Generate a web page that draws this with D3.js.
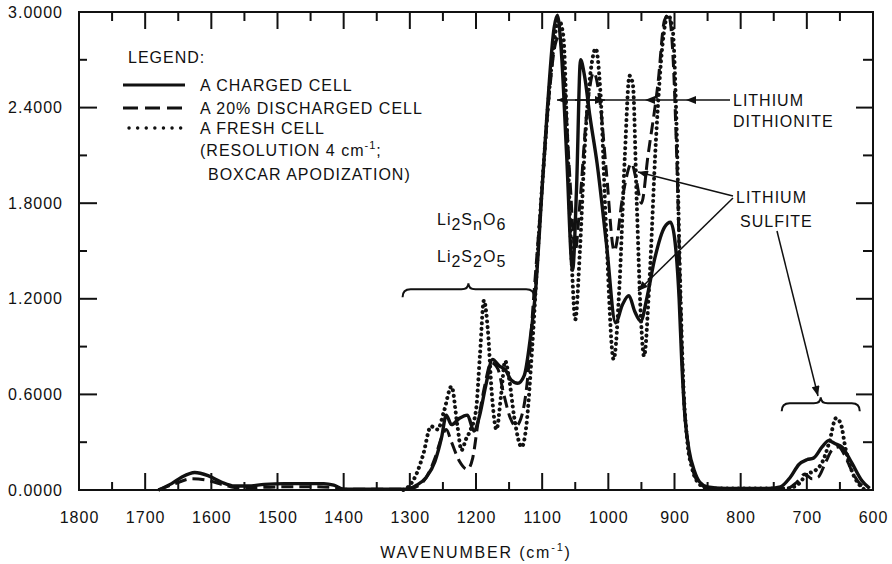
<!DOCTYPE html>
<html>
<head>
<meta charset="utf-8">
<script src="https://cdn.jsdelivr.net/npm/d3@7"></script>
<style>
  body { margin: 0; background: #fff; }
  svg { display: block; }
  text { font-family: "Liberation Sans", Arial, sans-serif; fill: #111; }
  .tick text { font-size: 16px; letter-spacing: 1px; }
  .ann { font-size: 16px; letter-spacing: 1px; }
</style>
</head>
<body>
<div id="chart"></div>
<script>
var width = 892,
    height = 564;

// charged cell (solid)
var chargedWn = [1680, 1660, 1645, 1625, 1605, 1585, 1565, 1545, 1520, 1490, 1460, 1430, 1415, 1400,
  1350, 1305, 1290, 1275, 1262, 1252, 1245, 1237, 1225, 1213, 1203, 1195, 1185, 1175, 1165, 1155,
  1147, 1137, 1127, 1118, 1110, 1100, 1092, 1082, 1077, 1071, 1063, 1054, 1048, 1042, 1036, 1028,
  1017, 1003, 989, 979, 969, 960, 951, 942, 930, 915, 906, 899, 893, 889, 884, 878, 870, 862, 850,
  820, 760, 740, 725, 712, 700, 690, 677, 667, 657, 647, 632, 617, 605];
var chargedAbs = [0, 0.04, 0.08, 0.11, 0.09, 0.05, 0.025, 0.025, 0.035, 0.04, 0.04, 0.04, 0.03, 0.005,
  0.005, 0.005, 0.03, 0.08, 0.18, 0.33, 0.47, 0.41, 0.45, 0.47, 0.37, 0.46, 0.66, 0.82, 0.78, 0.75,
  0.69, 0.67, 0.72, 0.95, 1.25, 1.9, 2.4, 2.9, 2.98, 2.75, 2.1, 1.38, 1.9, 2.70, 2.6, 2.35,
  2.05, 1.55, 1.05, 1.16, 1.22, 1.12, 1.06, 1.2, 1.45, 1.65, 1.68, 1.55, 1.2, 0.8, 0.45, 0.25, 0.12, 0.05, 0.02,
  0.01, 0.01, 0.02, 0.08, 0.16, 0.19, 0.2, 0.27, 0.31, 0.29, 0.27, 0.17, 0.06, 0.01];

// 20% discharged cell (dashed)
var dischargedWn = [1680, 1655, 1630, 1605, 1580, 1555, 1530, 1490, 1440, 1415, 1400,
  1300, 1290, 1275, 1262, 1252, 1245, 1237, 1225, 1213, 1205, 1197, 1187, 1177, 1167, 1158, 1148,
  1140, 1132, 1122, 1113, 1100, 1090, 1080, 1074, 1067, 1058, 1050, 1043, 1033, 1022, 1013, 1003,
  991, 978, 965, 958, 950, 940, 925, 915, 909, 902, 896, 891, 886, 880, 872, 862, 850,
  820, 760, 730, 715, 703, 692, 683, 672, 662, 652, 643, 632, 620, 608];
var dischargedAbs = [0, 0.04, 0.07, 0.06, 0.03, 0.01, 0.015, 0.02, 0.02, 0.015, 0.005,
  0.005, 0.02, 0.08, 0.2, 0.33, 0.38, 0.3, 0.18, 0.13, 0.2, 0.42, 0.65, 0.8, 0.76, 0.6, 0.45,
  0.4, 0.45, 0.7, 1.2, 1.9, 2.45, 2.8, 2.85, 2.6, 1.95, 1.5, 1.8, 2.35, 2.62, 2.45, 2.0,
  1.5, 1.85, 2.05, 1.95, 1.8, 2.1, 2.55, 2.95, 2.98, 2.7, 2.0, 1.2, 0.6, 0.3, 0.12, 0.04, 0.015,
  0.01, 0.01, 0.01, 0.05, 0.1, 0.07, 0.08, 0.17, 0.25, 0.27, 0.22, 0.12, 0.04, 0.01];

// fresh cell (dotted)
var freshWn = [1310, 1300, 1290, 1280, 1268, 1258, 1248, 1237, 1228, 1222, 1215, 1208, 1200, 1194,
  1188, 1182, 1176, 1169, 1162, 1156, 1150, 1142, 1131, 1124, 1115, 1105, 1095, 1085, 1075, 1068,
  1062, 1055, 1050, 1043, 1035, 1026, 1019, 1012, 1003, 992, 983, 975, 968, 963, 957, 951, 946,
  938, 928, 918, 910, 903, 897, 892, 887, 881, 873, 863, 850, 760, 730, 712, 700, 688, 676, 666,
  656, 649, 641, 632, 620, 612];
var freshAbs = [0, 0.03, 0.1, 0.22, 0.4, 0.38, 0.5, 0.65, 0.4, 0.25, 0.32, 0.38, 0.5, 0.85,
  1.19, 1.0, 0.6, 0.38, 0.6, 0.81, 0.7, 0.45, 0.27, 0.4, 0.9, 1.6, 2.2, 2.7, 2.95, 2.85,
  2.2, 1.4, 1.07, 1.5, 2.2, 2.65, 2.77, 2.5, 1.6, 0.82, 1.3, 2.1, 2.6, 2.55, 1.8, 1.1, 0.84,
  1.3, 2.2, 2.8, 2.98, 2.9, 2.3, 1.4, 0.7, 0.32, 0.13, 0.04, 0.01, 0.01, 0.01, 0.04, 0.1, 0.12, 0.18, 0.3,
  0.45, 0.42, 0.25, 0.12, 0.03, 0];

var xMajor = d3.range(1800, 599, -100);
var xMinor = d3.range(1750, 600, -100);
var yMajor = [0, 0.6, 1.2, 1.8, 2.4, 3.0];
var yMinor = [0.3, 0.9, 1.5, 2.1, 2.7];

var x = d3.scaleLinear().domain([1800, 600]).range([79, 873]);
var y = d3.scaleLinear().domain([0, 3]).range([490, 12]);

var svg = d3.select("#chart").append("svg")
    .attr("width", width)
    .attr("height", height);

svg.append("rect").attr("width", width).attr("height", height).attr("fill", "#fff");

// tick labels through d3 axes (no tick marks)
var gx = svg.append("g")
    .attr("transform", "translate(0,490)")
    .call(d3.axisBottom(x).tickValues(xMajor).tickFormat(d3.format("d")).tickSize(0).tickPadding(22));
var gy = svg.append("g")
    .attr("transform", "translate(79,0)")
    .call(d3.axisLeft(y).tickValues(yMajor).tickFormat(d3.format(".4f")).tickSize(0).tickPadding(16));
svg.selectAll(".domain").remove();
svg.selectAll(".tick text").attr("fill", "#111");

// frame
svg.append("rect")
    .attr("x", x(1800)).attr("y", y(3))
    .attr("width", x(600) - x(1800)).attr("height", y(0) - y(3))
    .attr("fill", "none").attr("stroke", "#111").attr("stroke-width", 2);

// inward tick marks on all four sides
var ticks = svg.append("g").attr("stroke", "#111").attr("stroke-width", 2);
var addTicks = function(vals, horiz, base, len) {
    vals.forEach(function(v) {
        if (horiz) {
            ticks.append("line").attr("x1", x(v)).attr("x2", x(v))
                .attr("y1", base).attr("y2", base + len);
        } else {
            ticks.append("line").attr("y1", y(v)).attr("y2", y(v))
                .attr("x1", base).attr("x2", base + len);
        }
    });
};
addTicks(xMajor, true, y(0), -17);
addTicks(xMinor, true, y(0), -8);
addTicks(xMajor, true, y(3), 17);
addTicks(xMinor, true, y(3), 9);
addTicks(yMajor, false, x(1800), 18);
addTicks(yMinor, false, x(1800), 8);
addTicks(yMajor, false, x(600), -17);
addTicks(yMinor, false, x(600), -10);

// x axis title
var xt = svg.append("text").attr("class", "ann")
    .attr("x", 476).attr("y", 558).attr("text-anchor", "middle")
    .style("letter-spacing", "1.8px");
xt.append("tspan").text("WAVENUMBER (cm");
xt.append("tspan").attr("dy", -7).attr("font-size", 11).text("-1");
xt.append("tspan").attr("dy", 7).text(")");

// spectra
var line = d3.line()
    .x(function(d) { return x(d[0]); })
    .y(function(d) { return y(d[1]); })
    .curve(d3.curveMonotoneX);

var series = [
    { wn: chargedWn, abs: chargedAbs, dash: null, w: 3.4 },
    { wn: dischargedWn, abs: dischargedAbs, dash: "12,6", w: 3 },
    { wn: freshWn, abs: freshAbs, dash: "0.1,5.5", w: 4 }
];

series.forEach(function(s) {
    var pts = s.wn.map(function(w, i) { return [w, s.abs[i]]; });
    svg.append("path")
        .datum(pts)
        .attr("d", line)
        .attr("fill", "none")
        .attr("stroke", "#111")
        .attr("stroke-width", s.w)
        .attr("stroke-linecap", s.dash === "0.1,5.5" ? "round" : "butt")
        .attr("stroke-dasharray", s.dash);
});

// legend
svg.append("text").attr("class", "ann").attr("x", 128).attr("y", 63).text("LEGEND:");
var legendRows = [
    { y: 85, dash: null, w: 3, cap: "butt", x0: 123, label: "A CHARGED CELL" },
    { y: 108, dash: "15,7", w: 3, cap: "butt", x0: 123, label: "A 20% DISCHARGED CELL" },
    { y: 128, dash: "0.1,8.5", w: 3.4, cap: "round", x0: 129, label: "A FRESH CELL" }
];
legendRows.forEach(function(r) {
    svg.append("line")
        .attr("x1", r.x0).attr("x2", 185).attr("y1", r.y).attr("y2", r.y)
        .attr("stroke", "#111").attr("stroke-width", r.w)
        .attr("stroke-dasharray", r.dash).attr("stroke-linecap", r.cap);
    svg.append("text").attr("class", "ann").attr("x", 200).attr("y", r.y + 6).text(r.label);
});
var res = svg.append("text").attr("class", "ann").attr("x", 200).attr("y", 156);
res.append("tspan").text("(RESOLUTION 4 cm");
res.append("tspan").attr("dy", -7).attr("font-size", 11).text("-1");
res.append("tspan").attr("dy", 7).text(";");
svg.append("text").attr("class", "ann").attr("x", 208).attr("y", 180).text("BOXCAR APODIZATION)");

// chemical formula labels
var formula = function(xp, yp, parts) {
    var t = svg.append("text").attr("class", "ann").attr("x", xp).attr("y", yp);
    var shift = 0;
    parts.forEach(function(p) {
        var dy = p[1] ? 5 - shift : -shift;
        shift += dy;
        t.append("tspan").attr("dy", dy).text(p[0]);
    });
};
formula(437, 225, [["Li", 0], ["2", 1], ["S", 0], ["n", 1], ["O", 0], ["6", 1]]);
formula(437, 262, [["Li", 0], ["2", 1], ["S", 0], ["2", 1], ["O", 0], ["5", 1]]);

// braces
var brace = function(w0, w1, v) {
    var x0 = x(w0), x1 = x(w1), yb = y(v), xm = (x0 + x1) / 2;
    svg.append("path")
        .attr("d", "M" + x0 + "," + (yb + 8) + " Q" + x0 + "," + yb + " " + (x0 + 8) + "," + yb +
            " L" + (xm - 7) + "," + yb + " Q" + xm + "," + yb + " " + xm + "," + (yb - 6) +
            " Q" + xm + "," + yb + " " + (xm + 7) + "," + yb +
            " L" + (x1 - 8) + "," + yb + " Q" + x1 + "," + yb + " " + x1 + "," + (yb + 8))
        .attr("fill", "none").attr("stroke", "#111").attr("stroke-width", 2);
};
brace(1311, 1112, 1.26);
brace(738, 620, 0.545);

// arrows
var defs = svg.append("defs");
defs.append("marker")
    .attr("id", "head")
    .attr("viewBox", "0 0 10 8")
    .attr("refX", 10).attr("refY", 4)
    .attr("markerWidth", 12).attr("markerHeight", 8)
    .attr("markerUnits", "userSpaceOnUse")
    .attr("orient", "auto")
  .append("path")
    .attr("d", "M0,0 L10,4 L0,8 z")
    .attr("fill", "#111");

var arrow = function(x1, y1, x2, y2) {
    svg.append("line")
        .attr("x1", x1).attr("y1", y1).attr("x2", x2).attr("y2", y2)
        .attr("stroke", "#111").attr("stroke-width", 1.5)
        .attr("marker-end", "url(#head)");
};

// lithium dithionite
svg.append("text").attr("class", "ann").attr("x", 733).attr("y", 106).text("LITHIUM");
svg.append("text").attr("class", "ann").attr("x", 733).attr("y", 127).text("DITHIONITE");
arrow(730, 100, 686, 100);
arrow(686, 100, 645, 100);
arrow(645, 100, 557, 100);
arrow(575, 100, 605, 100);

// lithium sulfite
svg.append("text").attr("class", "ann").attr("x", 736).attr("y", 203).text("LITHIUM");
svg.append("text").attr("class", "ann").attr("x", 740).attr("y", 227).text("SULFITE");
arrow(733, 196, 638, 172);
arrow(733, 198, 638, 291);
arrow(777, 231, 818, 396);
</script>
</body>
</html>
